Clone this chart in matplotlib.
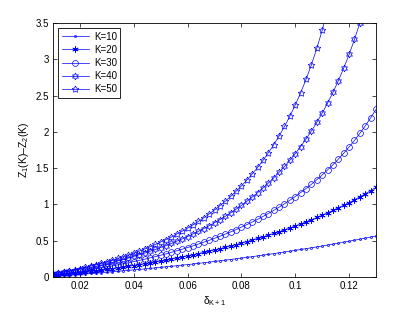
import matplotlib
matplotlib.use('Agg')
import matplotlib.pyplot as plt

plt.rcParams['font.family'] = ['Liberation Sans', 'DejaVu Sans']
plt.rcParams['mathtext.fontset'] = 'custom'
plt.rcParams['mathtext.rm'] = 'Liberation Sans'
plt.rcParams['mathtext.it'] = 'Liberation Sans:italic'

delta = [0.010, 0.012, 0.014, 0.016, 0.018, 0.020, 0.022, 0.024, 0.026, 0.028,
         0.030, 0.032, 0.034, 0.036, 0.038, 0.040, 0.042, 0.044, 0.046, 0.048,
         0.050, 0.052, 0.054, 0.056, 0.058, 0.060, 0.062, 0.064, 0.066, 0.068,
         0.070, 0.072, 0.074, 0.076, 0.078, 0.080, 0.082, 0.084, 0.086, 0.088,
         0.090, 0.092, 0.094, 0.096, 0.098, 0.100, 0.102, 0.104, 0.106, 0.108,
         0.110, 0.112, 0.114, 0.116, 0.118, 0.120, 0.122, 0.124, 0.126, 0.128,
         0.130]

k10 = [0.016, 0.020, 0.025, 0.029, 0.034, 0.039, 0.044, 0.049, 0.055, 0.060,
       0.066, 0.072, 0.078, 0.085, 0.091, 0.098, 0.104, 0.111, 0.118, 0.125,
       0.133, 0.140, 0.148, 0.155, 0.163, 0.171, 0.179, 0.188, 0.196, 0.205,
       0.214, 0.223, 0.232, 0.241, 0.251, 0.260, 0.270, 0.280, 0.291, 0.301,
       0.311, 0.322, 0.333, 0.344, 0.355, 0.367, 0.379, 0.390, 0.403, 0.415,
       0.427, 0.440, 0.453, 0.466, 0.480, 0.493, 0.507, 0.521, 0.536, 0.550,
       0.565]
k20 = [0.024, 0.031, 0.038, 0.045, 0.053, 0.060, 0.069, 0.077, 0.086, 0.095,
       0.105, 0.115, 0.125, 0.136, 0.147, 0.158, 0.169, 0.181, 0.194, 0.206,
       0.219, 0.233, 0.247, 0.261, 0.275, 0.290, 0.306, 0.322, 0.338, 0.355,
       0.372, 0.390, 0.409, 0.428, 0.447, 0.467, 0.488, 0.509, 0.531, 0.553,
       0.576, 0.600, 0.625, 0.650, 0.676, 0.703, 0.731, 0.760, 0.789, 0.820,
       0.852, 0.884, 0.918, 0.953, 0.989, 1.026, 1.065, 1.105, 1.147, 1.190,
       1.234]
k30 = [0.031, 0.040, 0.049, 0.058, 0.068, 0.079, 0.090, 0.101, 0.113, 0.126,
       0.139, 0.152, 0.166, 0.181, 0.196, 0.212, 0.228, 0.245, 0.263, 0.281,
       0.300, 0.319, 0.340, 0.361, 0.383, 0.406, 0.429, 0.454, 0.479, 0.505,
       0.533, 0.561, 0.591, 0.621, 0.653, 0.687, 0.721, 0.757, 0.795, 0.834,
       0.875, 0.918, 0.962, 1.009, 1.058, 1.109, 1.163, 1.219, 1.278, 1.340,
       1.406, 1.475, 1.547, 1.624, 1.705, 1.791, 1.882, 1.979, 2.082, 2.192,
       2.309]
k40 = [0.040, 0.051, 0.063, 0.076, 0.089, 0.103, 0.117, 0.133, 0.149, 0.165,
       0.183, 0.201, 0.220, 0.240, 0.261, 0.283, 0.306, 0.329, 0.354, 0.379,
       0.406, 0.434, 0.463, 0.494, 0.525, 0.558, 0.593, 0.629, 0.667, 0.706,
       0.748, 0.791, 0.836, 0.884, 0.934, 0.986, 1.042, 1.100, 1.161, 1.225,
       1.294, 1.366, 1.442, 1.523, 1.609, 1.700, 1.797, 1.901, 2.012, 2.130,
       2.258, 2.395, 2.543, 2.703, 2.877, 3.066, 3.273, 3.500, 3.750]
k50 = [0.046, 0.058, 0.071, 0.086, 0.101, 0.117, 0.134, 0.151, 0.170, 0.190,
       0.210, 0.232, 0.255, 0.279, 0.304, 0.330, 0.357, 0.386, 0.416, 0.448,
       0.481, 0.516, 0.552, 0.591, 0.631, 0.674, 0.718, 0.766, 0.815, 0.868,
       0.923, 0.982, 1.044, 1.110, 1.180, 1.255, 1.334, 1.419, 1.509, 1.606,
       1.710, 1.822, 1.943, 2.074, 2.216, 2.370, 2.538, 2.722, 2.925, 3.149,
       3.398, 3.676]

series = [("K=10", k10), ("K=20", k20), ("K=30", k30), ("K=40", k40), ("K=50", k50)]
markers = {"K=10": ('.', 3.0), "K=20": ((6, 2, 0), 4.5), "K=30": ('o', 4.2),
           "K=40": ((6, 1, 0), 5.0), "K=50": ((5, 1, 0), 5.0)}

xticks = [0.02, 0.04, 0.06, 0.08, 0.10, 0.12]
xticklabels = ["0.02", "0.04", "0.06", "0.08", "0.1", "0.12"]
yticks = [0, 0.5, 1, 1.5, 2, 2.5, 3, 3.5]
yticklabels = ["0", "0.5", "1", "1.5", "2", "2.5", "3", "3.5"]

blue = (0.0, 0.0, 1.0)

fig = plt.figure(figsize=(4.15, 3.13), dpi=100)
ax = fig.add_axes([53/415, 36/313, 323/415, 254/313])

for name, vals in series:
    m, ms = markers[name]
    ax.plot(delta[:len(vals)], vals, color=blue, lw=0.5, marker=m, ms=ms,
            mfc='none', mec=blue, mew=0.5, label=name)

ax.set_xlim(0.01, 0.13)
ax.set_ylim(0, 3.5)
ax.set_xticks(xticks)
ax.set_xticklabels(xticklabels)
ax.set_yticks(yticks)
ax.set_yticklabels(yticklabels)
ax.tick_params(direction='in', length=3, width=0.5, top=True, right=True,
               labelsize=7, pad=3, colors='black')
for s in ax.spines.values():
    s.set_linewidth(0.6)
    s.set_color('black')

ax.set_xlabel('δ$_{\\mathregular{K+1}}$', fontsize=7.5, labelpad=2)
ax.set_ylabel('Z$_{\\mathregular{1}}$(K)–Z$_{\\mathregular{2}}$(K)', fontsize=7.5, labelpad=3)

leg = ax.legend(loc='upper left', fontsize=7, frameon=True, fancybox=False,
                framealpha=1, edgecolor='black', handlelength=2.8,
                handletextpad=0.5, labelspacing=0.32, borderpad=0.35,
                borderaxespad=0.55)
leg.get_frame().set_linewidth(0.6)

fig.savefig('out.png', dpi=100)
